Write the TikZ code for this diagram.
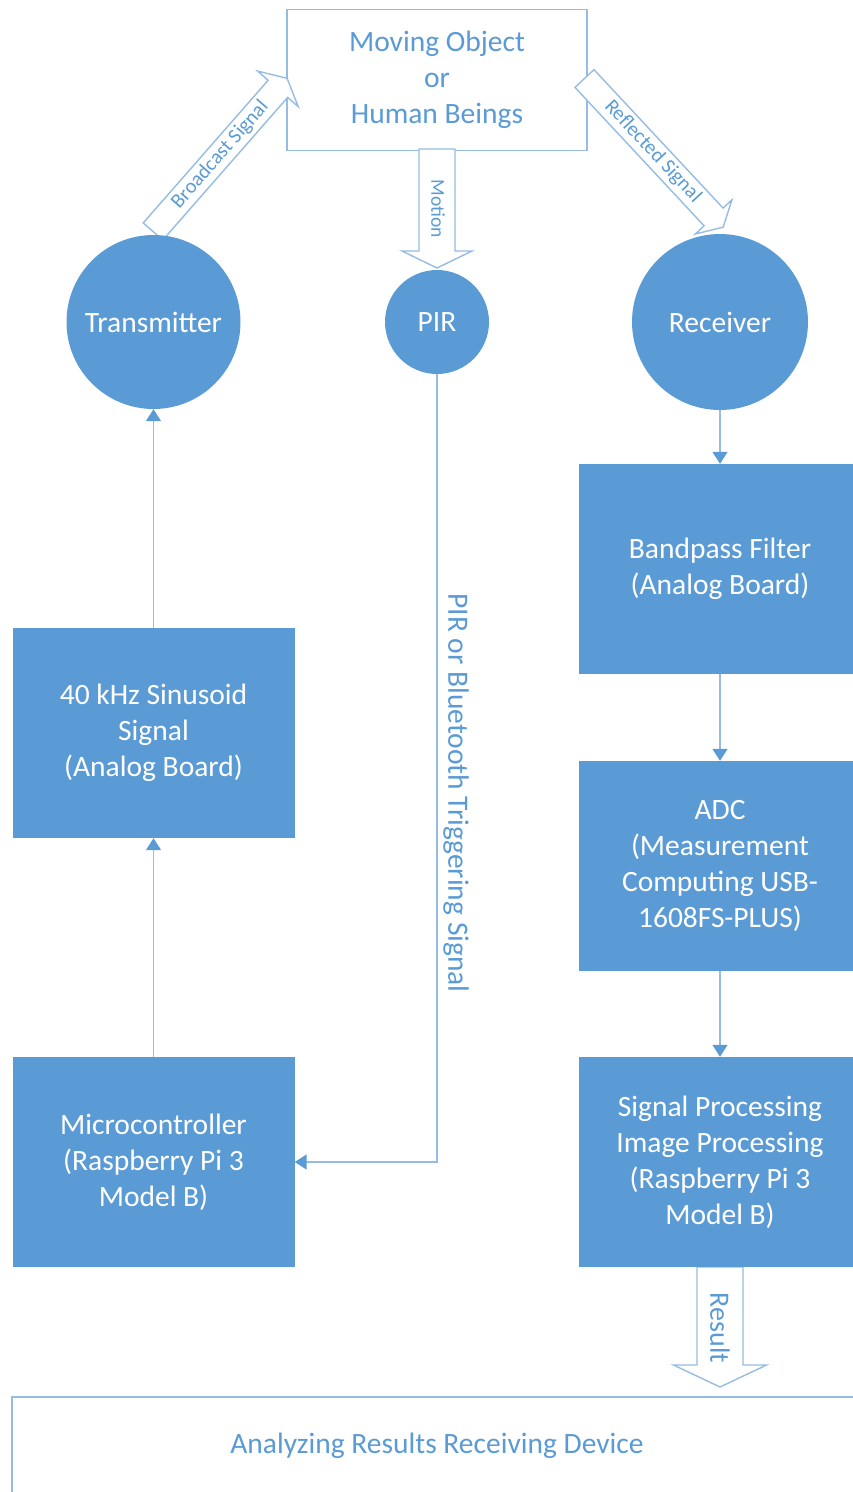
\documentclass[tikz,border=0pt]{standalone}
\usepackage{fontspec}
\setmainfont{Carlito}
\usetikzlibrary{arrows.meta}

\definecolor{boxblue}{RGB}{91,155,213}
\definecolor{lineblue}{RGB}{150,188,228}
\definecolor{textblue}{RGB}{91,155,213}

\newcommand\mainsize{\fontsize{29.5}{36}\selectfont}
\newcommand\labelsize{\fontsize{20.5}{24}\selectfont}
\newcommand\motionsize{\fontsize{19.5}{22}\selectfont}

% hollow block arrow: base x, base y, angle, shaft length, head length,
% shaft half width, head half width
\newcommand\blkarrow[7]{%
  \begin{scope}[shift={(#1,#2)}, rotate=#3]
    \filldraw[blockarrow] (0,-#6) -- (#4,-#6) -- (#4,-#7) -- ({#4+#5},0)
      -- (#4,#7) -- (#4,#6) -- (0,#6) -- cycle;
  \end{scope}}

\tikzset{
  bluebox/.style={fill=boxblue, text=white, minimum width=282pt,
    minimum height=210pt, align=center, inner sep=0pt, font=\mainsize},
  bluecircle/.style={circle, fill=boxblue, text=white, inner sep=0pt,
    font=\mainsize},
  whitebox/.style={draw=lineblue, line width=1.5pt, fill=white,
    text=textblue, align=center, inner sep=0pt, font=\mainsize},
  blockarrow/.style={draw=lineblue, line width=1.4pt, fill=white,
    line join=miter},
  conn/.style={draw=lineblue, line width=1.5pt,
    -{Triangle[length=12pt, width=15pt, color=boxblue]}},
  lbl/.style={text=textblue, inner sep=0pt},
}

\begin{document}
\begin{tikzpicture}[x=1pt, y=1pt]
\useasboundingbox (0,0) rectangle (853,-1492);
\clip (0,0) rectangle (853,-1492);

% target of the sensors
\node[whitebox, minimum width=300pt, minimum height=141pt] (obj)
  at (437,-80) {Moving Object\\or\\Human Beings};

% hollow signal arrows
\blkarrow{153}{-231.5}{48.8}{189.6}{14}{13}{27}
\blkarrow{584.5}{-78.5}{-47}{189.3}{14}{13}{25}
\blkarrow{437}{-149}{-90}{102}{17}{18}{35}
\blkarrow{720}{-1267}{-90}{98}{22}{23}{46.5}

\node[lbl, font=\labelsize, rotate=48.8] (bclbl)
  at ({153+102*cos(48.8)},{-231.5+102*sin(48.8)}) {Broadcast Signal};
\node[lbl, font=\labelsize, rotate=-47] (rflbl)
  at ({584.5+100*cos(-47)},{-78.5+100*sin(-47)}) {Reflected Signal};
\node[lbl, font=\motionsize, rotate=-90] (motlbl) at (438,-209) {Motion};
\node[lbl, font=\fontsize{28}{32}\selectfont, rotate=-90] (reslbl)
  at (720,-1328) {Result};

% sensors
\node[bluecircle, minimum size=174pt] (tx) at (153.5,-322) {Transmitter};
\node[bluecircle, minimum size=104pt] (pir) at (437,-322) {PIR};
\node[bluecircle, minimum size=176pt] (rx) at (720,-322) {Receiver};

% transmit chain
\node[bluebox] (sig) at (153.5,-733) {40 kHz Sinusoid\\Signal\\(Analog Board)};
\node[bluebox] (mcu) at (153.5,-1162) {Microcontroller\\(Raspberry Pi 3\\Model B)};

% receive chain
\node[bluebox] (bpf) at (720,-569) {Bandpass Filter\\(Analog Board)};
\node[bluebox] (adc) at (720,-866) {ADC\\(Measurement\\Computing USB-\\1608FS-PLUS)};
\node[bluebox] (dsp) at (720,-1162) {Signal Processing\\Image Processing\\(Raspberry Pi 3\\Model B)};

% result sink
\node[whitebox, minimum width=850pt, minimum height=98pt] (dev)
  at (437,-1446) {Analyzing Results Receiving Device};

% connectors
\draw[conn] (sig.north) -- (tx.south);
\draw[conn] (mcu.north) -- (sig.south);
\draw[conn] (rx.south) -- (bpf.north);
\draw[conn] (bpf.south) -- (adc.north);
\draw[conn] (adc.south) -- (dsp.north);
\draw[conn] (pir.south) |- (mcu.east);
\node[lbl, font=\mainsize, rotate=-90] (trig) at (456,-793)
  {PIR or Bluetooth Triggering Signal};
\end{tikzpicture}
\end{document}
